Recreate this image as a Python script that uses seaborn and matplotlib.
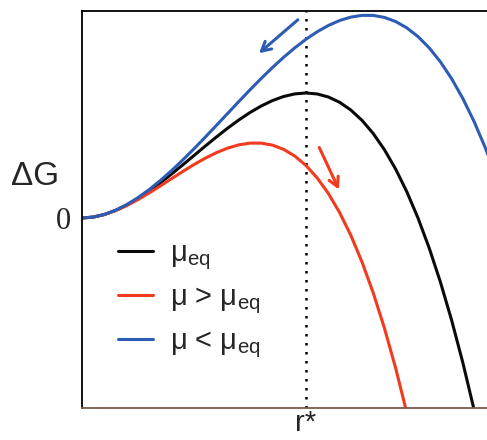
import numpy as np
import pandas as pd
import matplotlib
matplotlib.use("Agg")
import matplotlib.pyplot as plt
import seaborn as sns

# Cluster radius (units of r*) and free energy (units of the barrier height)
r_black = [0, 0.05, 0.1, 0.15, 0.2, 0.25, 0.3, 0.35, 0.4, 0.45, 0.5, 0.55, 0.6, 0.65, 0.7, 0.75,
           0.8, 0.85, 0.9, 0.95, 1.0, 1.05, 1.1, 1.15, 1.2, 1.25, 1.3, 1.35, 1.4, 1.45, 1.5,
           1.55, 1.6, 1.65, 1.7, 1.75]
g_black = [0, 0.00725, 0.028, 0.0608, 0.104, 0.1563, 0.216, 0.2818, 0.352, 0.4253, 0.5, 0.5748,
           0.648, 0.7183, 0.784, 0.8438, 0.896, 0.9393, 0.972, 0.9928, 1.0, 0.9923, 0.968,
           0.9258, 0.864, 0.7813, 0.676, 0.5468, 0.392, 0.2103, 0.0, -0.2403, -0.512, -0.8168,
           -1.156, -1.5313]

r_red = [0, 0.05, 0.1, 0.15, 0.2, 0.25, 0.3, 0.35, 0.4, 0.45, 0.5, 0.55, 0.6, 0.65, 0.7, 0.75,
         0.8, 0.85, 0.9, 0.95, 1.0, 1.05, 1.1, 1.15, 1.2, 1.25, 1.3, 1.35, 1.4, 1.45]
g_red = [0, 0.00718, 0.0274, 0.0588, 0.0994, 0.1472, 0.2003, 0.2569, 0.3149, 0.3724, 0.4275,
         0.4783, 0.5227, 0.559, 0.5851, 0.5991, 0.599, 0.5831, 0.5492, 0.4955, 0.42, 0.3208,
         0.196, 0.0436, -0.1382, -0.3516, -0.5983, -0.8803, -1.1995, -1.558]

r_blue = [0, 0.05, 0.1, 0.15, 0.2, 0.25, 0.3, 0.35, 0.4, 0.45, 0.5, 0.55, 0.6, 0.65, 0.7, 0.75,
          0.8, 0.85, 0.9, 0.95, 1.0, 1.05, 1.1, 1.15, 1.2, 1.25, 1.3, 1.35, 1.4, 1.45, 1.5,
          1.55, 1.6, 1.65, 1.7, 1.75, 1.8, 1.85]
g_blue = [0, 0.0073, 0.0284, 0.0622, 0.1074, 0.163, 0.2276, 0.3002, 0.3795, 0.4644, 0.5538,
          0.6463, 0.7409, 0.8363, 0.9315, 1.0252, 1.1162, 1.2033, 1.2855, 1.3614, 1.43, 1.49,
          1.5403, 1.5797, 1.607, 1.6211, 1.6207, 1.6047, 1.5719, 1.5212, 1.4513, 1.361, 1.2493,
          1.1149, 0.9566, 0.7733, 0.5638, 0.3269]

labels = ["μ$_{\\rm eq}$", "μ > μ$_{\\rm eq}$", "μ < μ$_{\\rm eq}$"]
colors = ["#0a0a0a", "#f23a1e", "#2d5cb5"]
r_star = 1.0

# arrow annotations (start, end) in data units
blue_arrow = [(0.973, 1.60), (0.781, 1.304)]
red_arrow = [(1.054, 0.584), (1.152, 0.208)]

df = pd.concat([
    pd.DataFrame({"r": r_black, "dG": g_black, "case": labels[0]}),
    pd.DataFrame({"r": r_red, "dG": g_red, "case": labels[1]}),
    pd.DataFrame({"r": r_blue, "dG": g_blue, "case": labels[2]}),
], ignore_index=True)

sns.set_theme(style="white")
plt.rcParams["font.family"] = ["Liberation Sans", "DejaVu Sans"]
plt.rcParams["mathtext.fontset"] = "custom"
plt.rcParams["mathtext.rm"] = "Liberation Sans"
plt.rcParams["mathtext.it"] = "Liberation Sans"
plt.rcParams["mathtext.sf"] = "Liberation Sans"

fig = plt.figure(figsize=(4.87, 4.40), dpi=100)
ax = fig.add_axes([82 / 487, 32 / 440, 405 / 487, 397 / 440])

sns.lineplot(data=df, x="r", y="dG", hue="case", palette=dict(zip(labels, colors)),
             sort=False, estimator=None, linewidth=2.2, ax=ax)

ax.axvline(r_star, color="black", linestyle=(0, (1, 2.6)), linewidth=1.8, zorder=1)

for (s, e), c in [(blue_arrow, colors[2]), (red_arrow, colors[1])]:
    ax.annotate("", xy=e, xytext=s,
                arrowprops=dict(arrowstyle="->,head_length=0.55,head_width=0.3",
                                color=c, lw=2.2))

ax.set_xlim(0, 405 / 224)
ax.set_ylim(-1.52, 1.656)

ax.set_xticks([r_star])
ax.set_xticklabels(["r*"], fontsize=21)
ax.set_yticks([0])
ax.set_yticklabels(["0"], fontsize=22, family=["Liberation Serif"])
ax.tick_params(axis="y", length=0, pad=8)
ax.tick_params(axis="x", length=0, pad=1)
ax.set_xlabel("")
ax.set_ylabel("ΔG", rotation=0, fontsize=24, ha="center", va="center")
ax.yaxis.set_label_coords(-0.116, 0.582)

for side in ["left", "top"]:
    ax.spines[side].set_color("black")
    ax.spines[side].set_linewidth(1.3)
ax.spines["bottom"].set_color("#7a5a4a")
ax.spines["bottom"].set_linewidth(1.3)
ax.spines["right"].set_visible(False)

ax.legend(title=None, frameon=False, fontsize=21, loc="upper left",
          bbox_to_anchor=(0.06, 0.455), handlelength=1.2, handletextpad=0.6,
          labelspacing=0.38, borderaxespad=0)

fig.savefig("out.png", dpi=100)
